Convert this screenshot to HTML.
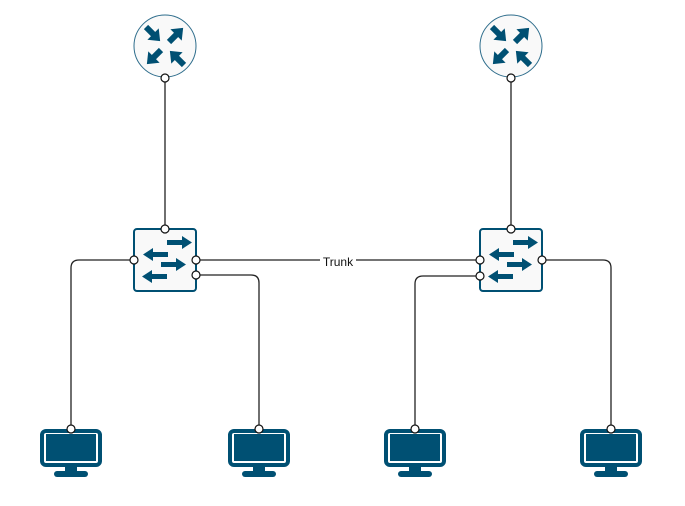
<!DOCTYPE html>
<html><head><meta charset="utf-8"><style>
html,body{margin:0;padding:0;background:#fff;width:685px;height:506px;overflow:hidden}
</style></head><body>
<svg width="685" height="506" viewBox="0 0 685 506" xmlns="http://www.w3.org/2000/svg">
<defs>
<g id="arr"><rect x="0" y="-3" width="12" height="6"/><polygon points="10,-8 20,0 10,8"/></g>
<g id="router">
 <circle cx="0" cy="0" r="31" fill="#f9f9f9" stroke="#2e6d8c" stroke-width="1"/>
 <g fill="#005073">
  <use href="#arr" transform="translate(-19,-19) rotate(45)"/>
  <use href="#arr" transform="translate(4,-4) rotate(-45)"/>
  <use href="#arr" transform="translate(-4,4) rotate(135)"/>
  <use href="#arr" transform="translate(19,19) rotate(225)"/>
 </g>
</g>
<g id="switch">
 <rect x="0" y="0" width="62" height="62" rx="3" fill="#f9f9f9" stroke="#005073" stroke-width="2"/>
 <g fill="#005073">
  <rect x="33" y="11" width="16" height="5"/><polygon points="48,7 58,13.5 48,20"/>
  <rect x="18" y="23" width="16" height="5"/><polygon points="19,19 9,25.5 19,32"/>
  <rect x="27" y="33" width="16" height="5"/><polygon points="42,29 52,35.5 42,42"/>
  <rect x="17" y="45" width="16" height="5"/><polygon points="18,41 8,47.5 18,54"/>
 </g>
</g>
<g id="pc">
 <rect x="2" y="2" width="58" height="34" rx="4" fill="none" stroke="#005073" stroke-width="4"/>
 <rect x="6" y="5" width="50" height="27" fill="#005073"/>
 <rect x="25" y="37" width="12" height="7" fill="#005073"/>
 <rect x="14" y="42" width="34" height="6" rx="3" fill="#005073"/>
</g>
</defs>

<g stroke="#222" stroke-width="1.3" fill="none">
 <path d="M165 77 V229"/>
 <path d="M511 77 V229"/>
 <path d="M134 260 H79 Q71 260 71 268 V429"/>
 <path d="M196 260 H480"/>
 <path d="M196 275 H251 Q259 275 259 283 V429"/>
 <path d="M480 276 H423 Q415 276 415 284 V429"/>
 <path d="M542 260 H603 Q611 260 611 268 V429"/>
</g>

<use href="#router" x="165" y="46"/>
<use href="#router" x="511" y="46"/>
<use href="#switch" x="134" y="229"/>
<use href="#switch" x="480" y="229"/>
<use href="#pc" x="40" y="429"/>
<use href="#pc" x="228" y="429"/>
<use href="#pc" x="384" y="429"/>
<use href="#pc" x="580" y="429"/>

<rect x="320" y="254" width="36" height="15" fill="#fff"/>
<text x="338" y="266" text-anchor="middle" font-family="Liberation Sans, sans-serif" font-size="12" fill="#111">Trunk</text>

<g fill="#fff" stroke="#111" stroke-width="1.2">
 <circle cx="165" cy="78" r="4"/><circle cx="511" cy="78" r="4"/>
 <circle cx="165" cy="229" r="4"/><circle cx="511" cy="229" r="4"/>
 <circle cx="134" cy="260" r="4"/><circle cx="196" cy="260" r="4"/><circle cx="196" cy="275" r="4"/>
 <circle cx="480" cy="260" r="4"/><circle cx="480" cy="276" r="4"/><circle cx="542" cy="260" r="4"/>
 <circle cx="71" cy="429" r="4"/><circle cx="259" cy="429" r="4"/><circle cx="415" cy="429" r="4"/><circle cx="611" cy="429" r="4"/>
</g>
</svg>
</body></html>
